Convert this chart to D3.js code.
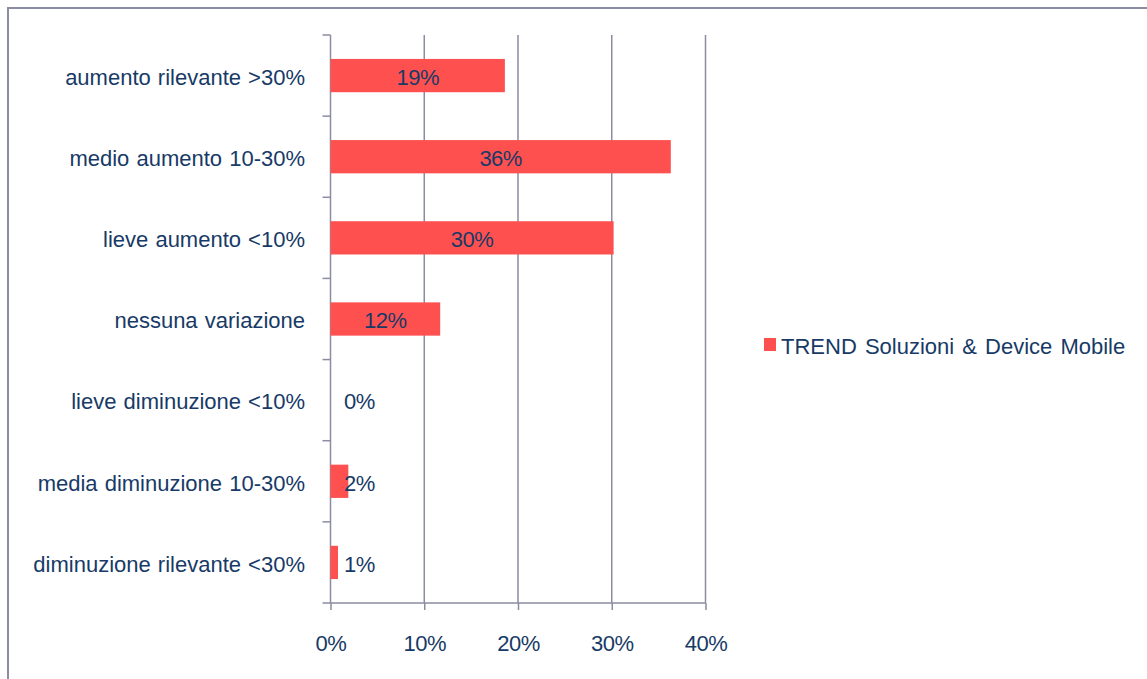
<!DOCTYPE html>
<html>
<head>
<meta charset="utf-8">
<script src="https://cdn.jsdelivr.net/npm/d3@7/dist/d3.min.js"></script>
<style>
  html, body { margin: 0; padding: 0; background: #fff; }
  svg { display: block; font-family: "Liberation Sans", Arial, sans-serif; }
</style>
</head>
<body>
<svg id="chart" width="1147" height="679"></svg>
<script>
// Survey answers, top to bottom
const categories = [
  "aumento rilevante >30%",
  "medio aumento 10-30%",
  "lieve aumento <10%",
  "nessuna variazione",
  "lieve diminuzione <10%",
  "media diminuzione 10-30%",
  "diminuzione rilevante <30%"
];
// Share of respondents (percent)
const values = [18.6, 36.3, 30.2, 11.7, 0, 1.9, 0.8];
const xTicks = [0, 10, 20, 30, 40];
const seriesName = "TREND Soluzioni & Device Mobile";

const textColor = "#173A66";
const barColor = "#FF5050";
const lineColor = "#8A8DA1";
const fontSize = "22px";

const svg = d3.select("#chart");

// Outer chart frame (runs off the right and bottom edges)
svg.append("rect")
  .attr("x", 8).attr("y", 8)
  .attr("width", 1160).attr("height", 700)
  .attr("fill", "none")
  .attr("stroke", lineColor)
  .attr("stroke-width", 2);

const plot = { left: 330.5, right: 705.5, top: 35, bottom: 603 };

const x = d3.scaleLinear().domain([0, 40]).range([plot.left, plot.right]);
const y = d3.scaleBand().domain(categories).range([plot.top, plot.bottom]).paddingInner(0.59).paddingOuter(0.295);

// Vertical gridlines
svg.append("g")
  .selectAll("line")
  .data(xTicks.slice(1))
  .join("line")
  .attr("x1", d => x(d)).attr("x2", d => x(d))
  .attr("y1", plot.top).attr("y2", plot.bottom)
  .attr("stroke", lineColor).attr("stroke-width", 1.5);

// Bottom axis
const xAxis = svg.append("g")
  .attr("transform", `translate(0,${plot.bottom})`)
  .call(d3.axisBottom(x).tickValues(xTicks).tickFormat(d => d + "%").tickSize(7).tickSizeOuter(0).tickPadding(25));
xAxis.select(".domain").remove();
xAxis.selectAll(".tick line").attr("stroke", lineColor).attr("stroke-width", 1.5);
xAxis.selectAll(".tick text")
  .attr("fill", textColor)
  .style("font-size", fontSize)
  .style("letter-spacing", "-0.5px");
xAxis.append("line")
  .attr("x1", plot.left - 8).attr("x2", plot.right)
  .attr("stroke", lineColor).attr("stroke-width", 1.5);

// Left category axis with boundary ticks
const bandStep = (plot.bottom - plot.top) / categories.length;
const yAxisG = svg.append("g");
yAxisG.append("line")
  .attr("x1", plot.left).attr("x2", plot.left)
  .attr("y1", plot.top).attr("y2", plot.bottom)
  .attr("stroke", lineColor).attr("stroke-width", 1.5);
yAxisG.selectAll("line.bt")
  .data(d3.range(categories.length))
  .join("line")
  .attr("class", "bt")
  .attr("x1", plot.left - 8).attr("x2", plot.left)
  .attr("y1", i => plot.top + i * bandStep)
  .attr("y2", i => plot.top + i * bandStep)
  .attr("stroke", lineColor).attr("stroke-width", 1.5);
yAxisG.selectAll("text")
  .data(categories)
  .join("text")
  .attr("x", 305)
  .attr("y", d => y(d) + y.bandwidth() / 2)
  .attr("dy", "0.42em")
  .attr("text-anchor", "end")
  .attr("fill", textColor)
  .style("font-size", fontSize)
  .style("word-spacing", "1px")
  .text(d => d);

// Bars
const rows = categories.map((c, i) => ({ c, v: values[i] }));
svg.append("g")
  .selectAll("rect")
  .data(rows)
  .join("rect")
  .attr("x", x(0))
  .attr("y", d => y(d.c))
  .attr("width", d => x(d.v) - x(0))
  .attr("height", y.bandwidth())
  .attr("fill", barColor);

// Value labels
const fmt = d => d3.format(".0f")(d) + "%";
svg.append("g")
  .selectAll("text")
  .data(rows)
  .join("text")
  .attr("x", d => Math.max((x(0) + x(d.v)) / 2, x(0) + 29))
  .attr("y", d => y(d.c) + y.bandwidth() / 2)
  .attr("dy", "0.42em")
  .attr("text-anchor", "middle")
  .attr("fill", textColor)
  .style("font-size", fontSize)
  .style("letter-spacing", "-0.5px")
  .text(d => fmt(d.v));

// Legend
const legend = svg.append("g").attr("transform", "translate(764,338)");
legend.append("rect").attr("width", 12).attr("height", 13).attr("fill", barColor);
legend.append("text")
  .attr("x", 17).attr("y", 6.5).attr("dy", "0.42em")
  .attr("fill", textColor)
  .style("font-size", fontSize)
  .style("word-spacing", "2px")
  .text(seriesName);
</script>
</body>
</html>
